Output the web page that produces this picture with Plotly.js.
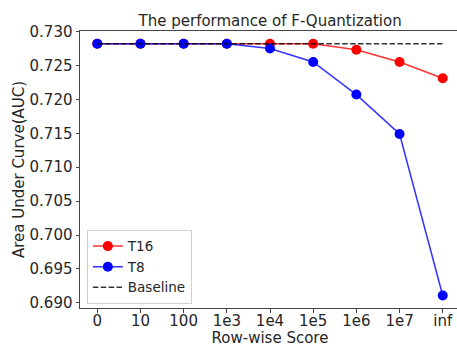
<!DOCTYPE html>
<html><head><meta charset="utf-8">
<script src="https://cdn.plot.ly/plotly-3.0.1.min.js"></script>
<style>html,body{margin:0;padding:0;overflow:hidden;background:#fff}</style>
</head><body><div id="chart" style="width:461px;height:347px"></div>
<script>
const categories = ["0","10","100","1e3","1e4","1e5","1e6","1e7","inf"];
const t16 = [0.7282,0.7282,0.7282,0.7282,0.7282,0.7282,0.7273,0.7255,0.7231];
const t8 = [0.7282,0.7282,0.7282,0.7282,0.7275,0.7255,0.7207,0.7149,0.6911];
const baseline = [0.7282,0.7282,0.7282,0.7282,0.7282,0.7282,0.7282,0.7282,0.7282];
const yTicks = [0.690,0.695,0.700,0.705,0.710,0.715,0.720,0.725,0.730];

const xIdx = categories.map((c,i)=>i);
const font = {family:"DejaVu Sans", color:"#262626"};
const traces = [
 {x:xIdx, y:baseline, xaxis:"x2", mode:"lines", opacity:0, showlegend:false, hoverinfo:"skip"},
 {x:xIdx, y:t16, name:"T16", mode:"lines+markers", line:{color:"rgba(255,0,0,0.8)", width:1.5}, marker:{color:"#ff0000", size:10}},
 {x:xIdx, y:t8, name:"T8", mode:"lines+markers", line:{color:"rgba(0,0,255,0.8)", width:1.5}, marker:{color:"#0000ff", size:10}},
 {x:xIdx, y:baseline, name:"Baseline", mode:"lines", line:{color:"rgba(0,0,0,0.8)", width:1.5, dash:"5.5px,2.4px"}}
];
const layout = {
 width:461, height:347,
 margin:{l:80, r:1, t:31, b:39},
 paper_bgcolor:"#fff", plot_bgcolor:"#fff",
 font:Object.assign({size:15}, font),
 title:{text:"The performance of F-Quantization", font:Object.assign({size:15}, font), x:0.586, xanchor:"center", yref:"container", y:0.941, yanchor:"middle"},
 xaxis:{range:[-0.4,8.4], tickvals:xIdx, showticklabels:false, showgrid:false, zeroline:false, automargin:false,
   showline:true, linecolor:"#444", linewidth:1, mirror:true, ticks:"outside", ticklen:3.5, tickcolor:"#444"},
 xaxis2:{overlaying:"x", side:"bottom", anchor:"y", range:[-0.4,8.4], tickvals:xIdx, ticktext:categories, showgrid:false, zeroline:false, automargin:false,
   showline:false, ticks:"", ticklen:0, ticklabelstandoff:2,
   tickfont:Object.assign({size:15}, font),
   title:{text:"Row-wise Score", font:Object.assign({size:15}, font), standoff:4}},
 yaxis:{range:[0.68925,0.73007], tickvals:yTicks, ticktext:yTicks.map(v=>v.toFixed(3)), showgrid:false, zeroline:false, automargin:false,
   showline:true, linecolor:"#444", linewidth:1, mirror:true, ticks:"outside", ticklen:3.5, tickcolor:"#444",
   tickfont:Object.assign({size:15}, font),
   title:{text:"Area Under Curve(AUC)", font:Object.assign({size:15}, font), standoff:1}},
 legend:{x:0.018, y:0.015, xanchor:"left", yanchor:"bottom", bgcolor:"rgba(255,255,255,0.8)", bordercolor:"#d0d0d0", borderwidth:1,
   font:Object.assign({size:13.5}, font), itemwidth:30, tracegroupgap:0},
 showlegend:true
};
Plotly.newPlot("chart", traces, layout, {displayModeBar:false, staticPlot:true});
</script></body></html>
